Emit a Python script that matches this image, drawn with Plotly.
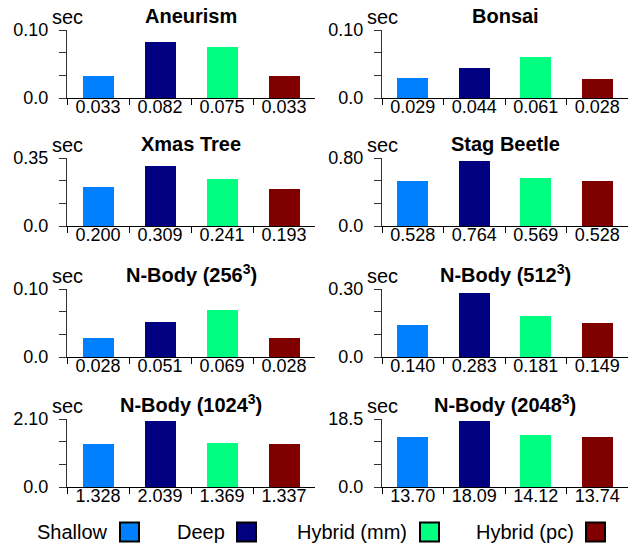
import plotly.graph_objects as go

W, H = 639, 544

series_names = ["Shallow", "Deep", "Hybrid (mm)", "Hybrid (pc)"]
series_colors = ["#0080FF", "#000080", "#00FF80", "#800000"]

titles = ["Aneurism", "Bonsai", "Xmas Tree", "Stag Beetle",
          "N-Body (256<sup>3</sup>)", "N-Body (512<sup>3</sup>)",
          "N-Body (1024<sup>3</sup>)", "N-Body (2048<sup>3</sup>)"]

aneurism = [0.033, 0.082, 0.075, 0.033]
bonsai = [0.029, 0.044, 0.061, 0.028]
xmas_tree = [0.200, 0.309, 0.241, 0.193]
stag_beetle = [0.528, 0.764, 0.569, 0.528]
nbody_256 = [0.028, 0.051, 0.069, 0.028]
nbody_512 = [0.140, 0.283, 0.181, 0.149]
nbody_1024 = [1.328, 2.039, 1.369, 1.337]
nbody_2048 = [13.70, 18.09, 14.12, 13.74]
all_values = [aneurism, bonsai, xmas_tree, stag_beetle,
              nbody_256, nbody_512, nbody_1024, nbody_2048]

value_labels = [
    ["0.033", "0.082", "0.075", "0.033"],
    ["0.029", "0.044", "0.061", "0.028"],
    ["0.200", "0.309", "0.241", "0.193"],
    ["0.528", "0.764", "0.569", "0.528"],
    ["0.028", "0.051", "0.069", "0.028"],
    ["0.140", "0.283", "0.181", "0.149"],
    ["1.328", "2.039", "1.369", "1.337"],
    ["13.70", "18.09", "14.12", "13.74"],
]

y_max = [0.10, 0.10, 0.35, 0.80, 0.10, 0.30, 2.10, 18.5]
y_max_labels = ["0.10", "0.10", "0.35", "0.80", "0.10", "0.30", "2.10", "18.5"]
y_zero_label = "0.0"

FONT = "Liberation Sans, Arial, Helvetica, sans-serif"

# layout in window pixels
col_x = [(67, 315), (382, 628)]
row_y = [(30, 98), (158, 226), (289, 357), (419, 487)]

def px_x(p):
    return p / W

def px_y(p):
    return 1 - p / H

fig = go.Figure()
annotations = []
shapes = []

cat_pos = list(range(len(series_names)))
boundaries = [c - 0.5 for c in cat_pos]

for i, vals in enumerate(all_values):
    r, c = divmod(i, 2)
    xk = "x" if i == 0 else f"x{i+1}"
    yk = "y" if i == 0 else f"y{i+1}"
    fig.add_trace(go.Bar(
        x=cat_pos, y=vals, width=0.5,
        marker=dict(color=series_colors, line=dict(width=0)),
        xaxis=xk, yaxis=yk, showlegend=False, hoverinfo="y",
    ))
    x0, x1 = col_x[c]
    y0, y1 = row_y[r]
    xdom = [px_x(x0), px_x(x1)]
    ydom = [px_y(y1), px_y(y0)]
    xname = "xaxis" if i == 0 else f"xaxis{i+1}"
    yname = "yaxis" if i == 0 else f"yaxis{i+1}"
    fig.layout[xname] = dict(
        domain=xdom, anchor=yk, range=[-0.5, 3.5], automargin=False,
        tickmode="array", tickvals=cat_pos, ticktext=value_labels[i],
        ticks="", showline=True, linecolor="black", linewidth=1,
        showgrid=False, zeroline=False, fixedrange=True,
        tickfont=dict(family=FONT, size=18, color="black"),
        ticklabelstandoff=-8,
        minor=dict(tickmode="array", tickvals=boundaries, ticks="outside",
                   ticklen=6, tickcolor="black", tickwidth=1, showgrid=False),
    )
    ym = y_max[i]
    fig.layout[yname] = dict(
        domain=ydom, anchor=xk, range=[0, ym], automargin=False,
        tickmode="array", tickvals=[0, ym], ticktext=[y_zero_label, y_max_labels[i]],
        ticks="outside", ticklen=7, tickcolor="#333", tickwidth=1,
        showline=True, linecolor="#333", linewidth=1,
        showgrid=False, zeroline=False, fixedrange=True,
        tickfont=dict(family=FONT, size=18, color="black"),
        ticklabelstandoff=7,
        minor=dict(tickmode="array", tickvals=[ym / 3, 2 * ym / 3], ticks="outside",
                   ticklen=7, tickcolor="#333", tickwidth=1, showgrid=False),
    )
    # title
    annotations.append(dict(
        text=f"<b>{titles[i]}</b>", xref="paper", yref="paper",
        x=(xdom[0] + xdom[1]) / 2, y=ydom[1], xanchor="center", yanchor="bottom",
        yshift=1, showarrow=False, font=dict(family=FONT, size=20, color="black"),
    ))
    # unit label
    annotations.append(dict(
        text="sec", xref="paper", yref="paper",
        x=xdom[0], y=ydom[1], xanchor="center", yanchor="middle",
        yshift=13, showarrow=False, font=dict(family=FONT, size=20, color="black"),
    ))

# legend: text followed by boxed swatch
legend_text_right = [110, 227, 409, 576]
legend_box_left = [120, 237, 420, 586]
legend_cy = 532
box = 19
for name, col, tr, bl in zip(series_names, series_colors, legend_text_right, legend_box_left):
    annotations.append(dict(
        text=name, xref="paper", yref="paper", x=px_x(tr), y=px_y(legend_cy),
        xanchor="right", yanchor="middle", showarrow=False,
        font=dict(family=FONT, size=20, color="black"),
    ))
    shapes.append(dict(
        type="rect", xref="paper", yref="paper",
        x0=px_x(bl), x1=px_x(bl + box), y0=px_y(legend_cy + box / 2), y1=px_y(legend_cy - box / 2),
        fillcolor=col, line=dict(color="black", width=2),
    ))

fig.update_layout(
    template="none",
    width=W, height=H, margin=dict(l=0, r=0, t=0, b=0, autoexpand=False),
    paper_bgcolor="white", plot_bgcolor="white",
    annotations=annotations, shapes=shapes, bargap=0, showlegend=False,
    font=dict(family=FONT, color="black"),
)

fig.write_html(
    "out.html",
    config={"displayModeBar": False},
    post_script="document.body.style.margin='0';document.body.style.padding='0';"
                "document.body.style.overflow='hidden';",
)
